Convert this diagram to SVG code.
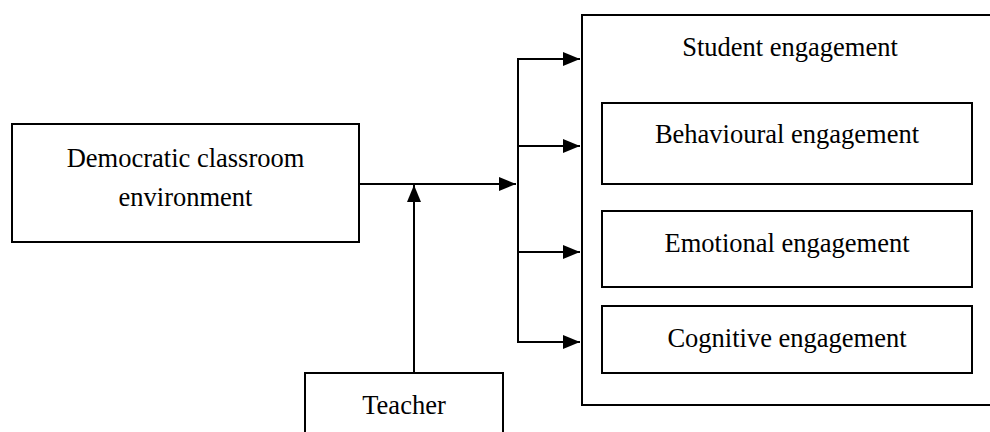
<svg xmlns="http://www.w3.org/2000/svg" width="990" height="432" viewBox="0 0 990 432">
<style>
.box{fill:#fff;stroke:#000;stroke-width:2}
.ln{fill:none;stroke:#000;stroke-width:2}
text{font-family:"Liberation Serif","Times New Roman",serif;font-size:26.5px;fill:#000;text-anchor:middle}
</style>
<defs>
<marker id="ah" markerUnits="userSpaceOnUse" markerWidth="18" markerHeight="16" refX="17" refY="7" orient="auto">
<path d="M0,0 L17,7 L0,14 Z" fill="#000"/>
</marker>
</defs>
<rect width="990" height="432" fill="#fff"/>
<g id="student-engagement">
<path class="ln" d="M1000,15 H582 V405 H1000"/>
<text x="790" y="56">Student engagement</text>
</g>
<g id="behavioural">
<rect class="box" x="602" y="103" width="370" height="81"/>
<text x="787" y="143">Behavioural engagement</text>
</g>
<g id="emotional">
<rect class="box" x="602" y="211" width="370" height="76"/>
<text x="787" y="252">Emotional engagement</text>
</g>
<g id="cognitive">
<rect class="box" x="602" y="306" width="370" height="67"/>
<text x="787" y="347">Cognitive engagement</text>
</g>
<g id="democratic">
<rect class="box" x="12" y="124" width="347" height="118"/>
<text x="185.5" y="167">Democratic classroom</text>
<text x="185.5" y="206">environment</text>
</g>
<g id="teacher">
<rect class="box" x="305" y="373" width="198" height="70"/>
<text x="404" y="414">Teacher</text>
</g>
<g id="connectors">
<line class="ln" x1="359" y1="184" x2="516" y2="184" marker-end="url(#ah)"/>
<line class="ln" x1="414" y1="373" x2="414" y2="185" marker-end="url(#ah)"/>
<line class="ln" x1="518" y1="58" x2="518" y2="343"/>
<line class="ln" x1="517" y1="59" x2="580" y2="59" marker-end="url(#ah)"/>
<line class="ln" x1="518" y1="146" x2="580" y2="146" marker-end="url(#ah)"/>
<line class="ln" x1="518" y1="252" x2="580" y2="252" marker-end="url(#ah)"/>
<line class="ln" x1="517" y1="342" x2="580" y2="342" marker-end="url(#ah)"/>
</g>
</svg>
